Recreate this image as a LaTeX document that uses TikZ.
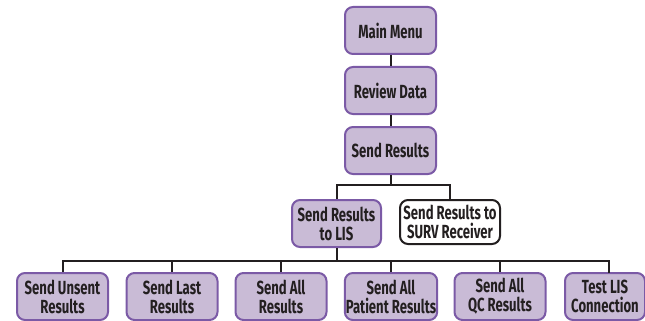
\documentclass[tikz,border=0pt]{standalone}
\usepackage{fontspec}
\setmainfont{Fira Sans}[FakeStretch=0.69]
\definecolor{boxfill}{HTML}{C9BBD6}
\definecolor{boxedge}{HTML}{7B5AA6}
\definecolor{txt}{HTML}{231F20}
\tikzset{
  menubox/.style={draw=boxedge, fill=boxfill, line width=2pt, rounded corners=8pt,
    minimum height=47pt, minimum width=91pt, inner sep=1pt, align=center,
    font=\fontsize{19}{19}\selectfont\bfseries, text=txt},
  plainbox/.style={menubox, draw=txt, fill=white},
  link/.style={draw=txt, line width=2pt}
}
\begin{document}
\begin{tikzpicture}[x=1pt,y=-1pt]
\useasboundingbox (0,0) rectangle (645,321);
\node[menubox] (mm) at (390.5,30.5) {Main Menu};
\node[menubox] (rd) at (390.5,90.5) {Review Data};
\node[menubox] (sr) at (390.5,150.5) {Send Results};
\node[menubox, minimum width=89pt] (lis) at (336.5,223.5) {Send Results\\to LIS};
\node[plainbox, minimum width=100pt, minimum height=44pt] (surv) at (450,222) {Send Results to\\SURV Receiver};
\node[menubox] (b1) at (62.5,296.5) {Send Unsent\\Results};
\node[menubox] (b2) at (172,296.5) {Send Last\\Results};
\node[menubox] (b3) at (281,296.5) {Send All\\Results};
\node[menubox] (b4) at (391,296.5) {Send All\\Patient Results};
\node[menubox] (b5) at (500,296.5) {Send All\\QC Results};
\node[menubox, minimum width=80pt] (b6) at (605,296.5) {Test LIS\\Connection};
\coordinate (j1) at (390.5,185);
\coordinate (j2) at (336.5,261);
\coordinate (c6) at (609,273);
\draw[link] (mm.south) -- (rd.north);
\draw[link] (rd.south) -- (sr.north);
\draw[link] (sr.south) -- (j1);
\draw[link] (lis.north) -- (lis.north |- j1) -- (surv.north |- j1) -- (surv.north);
\draw[link] (lis.south) -- (j2);
\draw[link] (b1.north) -- (b1.north |- j2) -- (c6 |- j2) -- (c6);
\foreach \b in {b2,b3,b4,b5} \draw[link] (\b.north) -- (\b.north |- j2);
\end{tikzpicture}
\end{document}
